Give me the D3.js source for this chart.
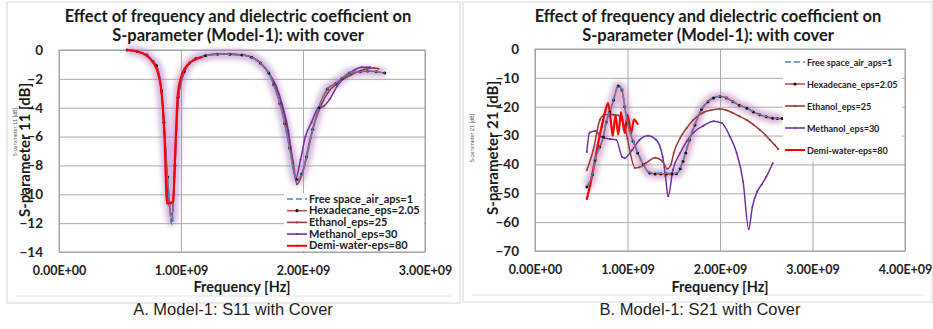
<!DOCTYPE html>
<html><head><meta charset="utf-8">
<script src="https://cdn.jsdelivr.net/npm/d3@7/dist/d3.min.js"></script>
<style>body{margin:0;background:#fff;} svg{display:block;font-family:Lato,'Open Sans',sans-serif;}</style>
</head><body><svg id="c" width="933" height="329"></svg>
<script>
// ---------- shared ----------
const seriesNames = ["Free space_air_aps=1","Hexadecane_eps=2.05","Ethanol_eps=25","Methanol_eps=30","Demi-water-eps=80"];
const seriesColors = ["#4f81bd","#c0504d","#9b3b32","#7030a0","#ff0000"];
const titleLines = ["Effect of frequency and dielectric coefficient on","S-parameter (Model-1): with cover"];

// ---------- Chart A: S11 (frequency in GHz, value in dB) ----------
const s11XTicks = [0,1e9,2e9,3e9];
const s11XTickLabels = ["0.00E+00","1.00E+09","2.00E+09","3.00E+09"];
const s11YTicks = [0,-2,-4,-6,-8,-10,-12,-14];

const s11FreeF = [0.56,0.64,0.72,0.77,0.80,0.84,0.86,0.89,0.925,0.95,0.975,1.025,1.07,1.12,1.2,1.3,1.4,1.5,1.58,1.65,1.72,1.76,1.81,1.85,1.89,1.95,1.99,2.03,2.08,2.13,2.2,2.27,2.32,2.38,2.47,2.53,2.6,2.67];
const s11FreeV = [0,-0.1,-0.35,-0.8,-1.1,-2.8,-5.1,-9.0,-12.1,-8.1,-3.3,-1.5,-0.9,-0.6,-0.4,-0.3,-0.3,-0.35,-0.5,-0.9,-1.6,-2.4,-3.7,-5.1,-6.8,-9.1,-8.7,-7.4,-5.5,-4.0,-2.7,-2.3,-1.95,-1.6,-1.5,-1.45,-1.5,-1.6];
const s11HexF = [0.56,0.64,0.72,0.77,0.80,0.84,0.86,0.89,0.925,0.95,0.975,1.025,1.07,1.12,1.2,1.3,1.4,1.5,1.58,1.65,1.72,1.76,1.81,1.85,1.89,1.95,1.99,2.03,2.08,2.13,2.2,2.27,2.32,2.38,2.47,2.53,2.6,2.67];
const s11HexV = [0,-0.1,-0.35,-0.8,-1.1,-2.8,-5.0,-8.8,-11.8,-8.0,-3.3,-1.5,-0.9,-0.6,-0.4,-0.3,-0.3,-0.35,-0.5,-0.9,-1.6,-2.4,-3.7,-5.1,-6.8,-9.0,-8.6,-7.4,-5.5,-4.0,-2.7,-2.3,-1.95,-1.6,-1.5,-1.45,-1.5,-1.6];
const s11EthF = [0.56,0.64,0.72,0.77,0.80,0.84,0.87,0.89,0.925,0.95,0.975,1.025,1.07,1.12,1.2,1.3,1.4,1.5,1.58,1.65,1.72,1.78,1.83,1.88,1.92,1.95,2.0,2.05,2.1,2.15,2.2,2.3,2.4,2.5,2.58,2.62];
const s11EthV = [0,-0.1,-0.35,-0.8,-1.2,-2.9,-6.5,-9.5,-11.4,-8.2,-3.4,-1.5,-0.9,-0.6,-0.4,-0.3,-0.3,-0.35,-0.5,-0.9,-1.6,-2.6,-3.9,-5.8,-7.8,-9.3,-8.4,-6.5,-4.9,-3.8,-3.0,-2.2,-1.7,-1.35,-1.25,-1.3];
const s11MetF = [0.56,0.64,0.72,0.77,0.80,0.84,0.87,0.895,0.93,0.96,0.98,1.03,1.07,1.12,1.2,1.3,1.4,1.5,1.58,1.65,1.72,1.78,1.83,1.88,1.91,1.94,1.98,2.02,2.07,2.12,2.17,2.22,2.28,2.35,2.42,2.48,2.55];
const s11MetV = [0,-0.1,-0.35,-0.8,-1.2,-2.9,-6.5,-10.7,-10.6,-6.0,-3.2,-1.5,-0.9,-0.6,-0.4,-0.3,-0.3,-0.35,-0.5,-0.9,-1.6,-2.5,-3.8,-5.6,-7.5,-8.9,-7.6,-6.0,-5.0,-4.1,-3.9,-3.4,-2.5,-1.8,-1.4,-1.2,-1.2];
const s11WatF = [0.56,0.64,0.72,0.77,0.80,0.84,0.865,0.885,0.91,0.935,0.955,0.975,1.0,1.03,1.07,1.12,1.17];
const s11WatV = [0,-0.1,-0.4,-0.85,-1.3,-2.9,-6.0,-10.6,-10.6,-10.5,-6.5,-3.0,-1.9,-1.3,-0.9,-0.65,-0.5];

// ---------- Chart B: S21 ----------
const s21XTicks = [0,1e9,2e9,3e9,4e9];
const s21XTickLabels = ["0.00E+00","1.00E+09","2.00E+09","3.00E+09","4.00E+09"];
const s21YTicks = [0,-10,-20,-30,-40,-50,-60,-70];

const s21FreeF = [0.56,0.62,0.65,0.70,0.74,0.77,0.81,0.85,0.90,0.94,0.97,1.0,1.06,1.11,1.17,1.24,1.3,1.36,1.42,1.48,1.53,1.57,1.60,1.63,1.67,1.73,1.8,1.87,1.93,2.0,2.07,2.14,2.21,2.29,2.36,2.43,2.5,2.57,2.62,2.67];
const s21FreeV = [-47.5,-43.2,-38.2,-33.8,-30.2,-25.0,-21.5,-17.4,-12.6,-14.0,-19.7,-25.4,-31.7,-35.8,-39.8,-42.8,-43.1,-43.1,-43.1,-43.1,-43.0,-41.2,-38.6,-35.6,-31.0,-25.9,-20.7,-18.1,-16.8,-16.4,-16.9,-18.2,-19.4,-20.4,-21.7,-22.7,-23.4,-23.9,-24.0,-24.0];
const s21HexF = [0.56,0.62,0.65,0.70,0.74,0.77,0.81,0.85,0.90,0.94,0.97,1.0,1.06,1.11,1.17,1.24,1.3,1.36,1.42,1.48,1.53,1.57,1.60,1.63,1.67,1.73,1.8,1.87,1.93,2.0,2.07,2.14,2.21,2.29,2.36,2.43,2.5,2.57,2.62,2.67];
const s21HexV = [-47.8,-43.6,-38.5,-34,-30.5,-25.3,-21.8,-17.7,-12.8,-14.2,-20,-25.7,-32,-36,-40,-43,-43.3,-43.3,-43.3,-43.3,-43.2,-41.5,-39,-36,-31.5,-26.3,-21,-18.3,-17,-16.5,-17,-18.3,-19.5,-20.5,-21.8,-22.8,-23.5,-24,-24.1,-24.1];
const s21EthF = [0.56,0.63,0.70,0.74,0.80,0.85,0.90,0.94,0.97,1.0,1.03,1.08,1.13,1.2,1.3,1.38,1.43,1.47,1.5,1.57,1.64,1.71,1.82,1.9,2.0,2.07,2.14,2.21,2.29,2.36,2.43,2.49,2.54,2.59,2.63];
const s21EthV = [-42,-35,-24.6,-23,-22.6,-22.8,-23,-24.5,-27,-31,-36,-41.2,-41,-39.5,-37.7,-39,-41.5,-40,-36,-30.8,-27.4,-24.6,-22,-21.2,-20.8,-21.2,-22.2,-23.3,-24.6,-26.2,-28,-29.8,-31.5,-33.2,-34.7];
const s21MetF = [0.56,0.59,0.65,0.72,0.81,0.88,0.94,0.97,1.05,1.13,1.22,1.31,1.38,1.41,1.44,1.49,1.57,1.64,1.71,1.82,1.93,2.02,2.11,2.18,2.25,2.31,2.35,2.4,2.45,2.5,2.57];
const s21MetV = [-35.7,-29,-28.4,-30.5,-31.2,-31.5,-37.3,-37.8,-35,-31.5,-30.1,-31.5,-37.3,-44,-51,-42,-36,-32,-29,-26.6,-25,-25.7,-30.5,-36,-46,-62.4,-54.7,-49.5,-47,-44.3,-39.6];
const s21WatF = [0.56,0.60,0.64,0.68,0.72,0.76,0.79,0.82,0.84,0.87,0.90,0.93,0.97,1.00,1.04,1.07,1.11];
const s21WatV = [-52,-46.5,-40,-33,-27,-21.5,-18.8,-25,-30,-23,-29.5,-22,-29,-23,-29,-24.5,-26];

const svg = d3.select("#c");
const defs = svg.append("defs");
const flt = defs.append("filter").attr("id","glow").attr("x","-20%").attr("y","-20%").attr("width","140%").attr("height","140%");
flt.append("feGaussianBlur").attr("stdDeviation",2.8);

function zip(F,V){ return F.map((f,i)=>({f:f*1e9,v:V[i]})); }

function drawChart(o){
  const g = svg.append("g");
  // panel frame
  g.append("rect").attr("x",o.frame[0]).attr("y",o.frame[1]).attr("width",o.frame[2]).attr("height",o.frame[3])
    .attr("fill","none").attr("stroke","#d6d6d6").attr("stroke-width",1);
  g.append("line").attr("x1",o.frame[0]+9).attr("x2",o.frame[0]+o.frame[2]-8)
    .attr("y1",o.frame[1]+o.frame[3]-7).attr("y2",o.frame[1]+o.frame[3]-7).attr("stroke","#e3e3e3");

  const x = d3.scaleLinear().domain(o.xDomain).range(o.xRange);
  const y = d3.scaleLinear().domain(o.yDomain).range(o.yRange);
  const [L,R] = o.xRange, [B,T] = o.yRange;

  // gridlines
  g.append("g").attr("transform",`translate(0,${B})`)
    .call(d3.axisBottom(x).tickValues(o.xTicks).tickSize(-(B-T)).tickFormat(""))
    .call(s=>{s.select(".domain").remove(); s.selectAll("line").attr("stroke","#a9a9a9");});
  g.append("g").attr("transform",`translate(${L},0)`)
    .call(d3.axisLeft(y).tickValues(o.yTicks).tickSize(-(R-L)).tickFormat(""))
    .call(s=>{s.select(".domain").remove(); s.selectAll("line").attr("stroke","#a9a9a9");});
  g.append("rect").attr("x",L).attr("y",T).attr("width",R-L).attr("height",B-T)
    .attr("fill","none").attr("stroke","#a0a0a0");

  // tick labels
  g.append("g").attr("transform",`translate(0,${B+20})`)
    .call(d3.axisBottom(x).tickValues(o.xTicks).tickSize(0).tickFormat((d,i)=>o.xTickLabels[i]))
    .call(s=>{s.select(".domain").remove(); s.selectAll("text").attr("font-family","Lato").attr("font-weight","bold").attr("font-size",12.5).attr("fill","#222").attr("dy","0");});
  g.append("g").attr("transform",`translate(${L-13},0)`)
    .call(d3.axisLeft(y).tickValues(o.yTicks).tickSize(0).tickFormat(d3.format("d")))
    .call(s=>{s.select(".domain").remove(); s.selectAll("text").attr("font-family","Lato").attr("font-weight","bold").attr("font-size",13.5).attr("fill","#222");});

  // titles
  titleLines.forEach((t,i)=>{
    g.append("text").attr("x",o.titleX).attr("y",o.titleY+i*19).attr("text-anchor","middle")
      .attr("font-weight","bold").attr("font-size",16.5).attr("fill","#1a1a1a").text(t);
  });
  g.append("text").attr("x",(L+R)/2).attr("y",o.xTitleY).attr("text-anchor","middle")
    .attr("font-weight","bold").attr("font-size",14.5).attr("fill","#1a1a1a").text("Frequency [Hz]");
  g.append("text").attr("transform",`translate(${o.yTitleX},${o.yTitleY}) rotate(-90)`).attr("text-anchor","middle")
    .attr("font-weight","bold").attr("font-size",15).attr("fill","#1a1a1a").text(o.yTitle);
  g.append("text").attr("transform",`translate(${o.tinyX},${o.tinyY}) rotate(-90)`).attr("text-anchor","middle")
    .attr("font-size",5.5).attr("fill","#555").text(o.yTitle);
  g.append("text").attr("x",o.captionX).attr("y",315).attr("text-anchor","middle")
    .attr("font-family","Liberation Sans, Arial, sans-serif").attr("font-size",16.5).attr("fill","#222").text(o.caption);

  const line = d3.line().x(d=>x(d.f)).y(d=>y(d.v)).curve(d3.curveMonotoneX);
  const plot = g.append("g");
  // glow halo
  o.glow.forEach(idx=>{
    plot.append("path").datum(zip(...o.series[idx])).attr("d",line).attr("fill","none")
      .attr("stroke",o.glowColor).attr("stroke-width",10).attr("stroke-opacity",0.55).attr("filter","url(#glow)");
  });
  o.order.forEach(idx=>{
    const data = zip(...o.series[idx]);
    const p = plot.append("path").datum(data).attr("d",line).attr("fill","none")
      .attr("stroke",seriesColors[idx]).attr("stroke-width",idx===4?2.2:1.5);
    if(idx===0) p.attr("stroke-dasharray","6,3");
    if(idx===1){
      plot.selectAll(null).data(data).join("circle").attr("cx",d=>x(d.f)).attr("cy",d=>y(d.v)).attr("r",1.5).attr("fill","#111");
    } else if(idx>1){
      plot.selectAll(null).data(data).join("circle").attr("cx",d=>x(d.f)).attr("cy",d=>y(d.v)).attr("r",1).attr("fill",seriesColors[idx]);
    }
  });

  // legend
  const lg = g.append("g");
  lg.append("rect").attr("x",o.leg.x).attr("y",o.leg.y).attr("width",o.leg.w).attr("height",o.leg.h).attr("fill","#fff");
  seriesNames.forEach((n,i)=>{
    const yy = o.leg.y0 + i*o.leg.dy;
    const l = lg.append("line").attr("x1",o.leg.lx).attr("x2",o.leg.lx+20).attr("y1",yy).attr("y2",yy)
      .attr("stroke",seriesColors[i]).attr("stroke-width",i===4?2:1.6);
    if(i===0) l.attr("stroke-dasharray","6,3");
    if(i>0) lg.append("circle").attr("cx",o.leg.lx+10).attr("cy",yy).attr("r",i===1?1.6:1.1).attr("fill",i===1?"#111":seriesColors[i]);
    lg.append("text").attr("x",o.leg.lx+22).attr("y",yy+3.5).attr("font-weight","bold")
      .attr("font-size",o.leg.fs).attr("fill","#222").text(n);
  });
}

drawChart({
  frame:[7,2,453,301], xDomain:[0,3e9], xRange:[59,425], yDomain:[-14,0], yRange:[252,50],
  xTicks:s11XTicks, xTickLabels:s11XTickLabels, yTicks:s11YTicks,
  titleX:238, titleY:22, xTitleY:292, yTitle:"S-parameter 11 [dB]", yTitleX:30, yTitleY:150,
  tinyX:17, tinyY:132, caption:"A. Model-1: S11 with Cover", captionX:233,
  series:[[s11FreeF,s11FreeV],[s11HexF,s11HexV],[s11EthF,s11EthV],[s11MetF,s11MetV],[s11WatF,s11WatV]],
  order:[2,3,1,0,4], glow:[1], glowColor:"#b07cc8",
  leg:{x:284,y:193,w:140,h:58,y0:199,dy:11.7,lx:287,fs:11}
});
drawChart({
  frame:[463,2,469,300], xDomain:[0,4e9], xRange:[535,905], yDomain:[-70,0], yRange:[251,49],
  xTicks:s21XTicks, xTickLabels:s21XTickLabels, yTicks:s21YTicks,
  titleX:708, titleY:22, xTitleY:292, yTitle:"S-parameter 21 [dB]", yTitleX:498, yTitleY:148,
  tinyX:474, tinyY:138, caption:"B. Model-1: S21 with Cover", captionX:700,
  series:[[s21FreeF,s21FreeV],[s21HexF,s21HexV],[s21EthF,s21EthV],[s21MetF,s21MetV],[s21WatF,s21WatV]],
  order:[3,2,4,1,0], glow:[1], glowColor:"#c27ab8",
  leg:{x:783,y:50,w:119,h:111,y0:62,dy:22,lx:785,fs:9}
});
</script></body></html>
